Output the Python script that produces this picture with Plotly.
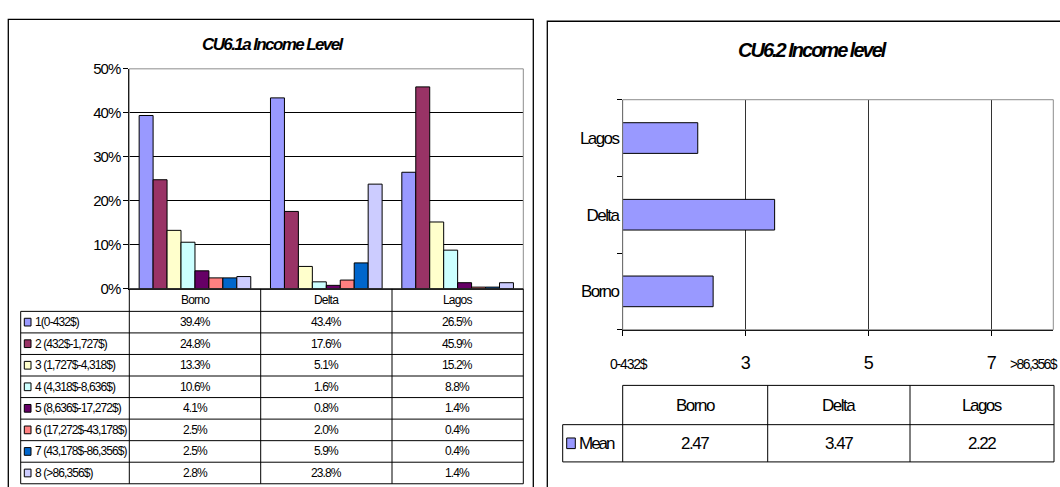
import plotly.graph_objects as go

W, H = 1060, 487

# ---- data: income distribution by state ----
regions = ["Borno", "Delta", "Lagos"]
income_bands = [
    "1(0-432$)",
    "2 (432$-1,727$)",
    "3 (1,727$-4,318$)",
    "4 (4,318$-8,636$)",
    "5 (8,636$-17,272$)",
    "6 (17,272$-43,178$)",
    "7 (43,178$-86,356$)",
    "8 (>86,356$)",
]
share_borno = [39.4, 24.8, 13.3, 10.6, 4.1, 2.5, 2.5, 2.8]
share_delta = [43.4, 17.6, 5.1, 1.6, 0.8, 2.0, 5.9, 23.8]
share_lagos = [26.5, 45.9, 15.2, 8.8, 1.4, 0.4, 0.4, 1.4]
band_colors = ["#9999FF", "#993366", "#FFFFCC", "#CCFFFF",
               "#660066", "#FF8080", "#0066CC", "#CCCCFF"]
pct_ticks = [0, 0.1, 0.2, 0.3, 0.4, 0.5]

# ---- data: mean income level ----
mean_income = [2.47, 3.47, 2.22]
mean_label = "Mean"
mean_color = "#9999FF"
scale_ticks = [1, 3, 5, 7]
scale_ticktext = ["", "3", "5", "7"]
scale_ends = ["0-432$", ">86,356$"]

title_left = "CU6.1a Income Level"
title_right = "CU6.2 Income level"

FONT = "Liberation Sans, Arial, sans-serif"


def px(x):
    return x / W


def py(y):
    return 1 - y / H


def tight(s, ls):
    """Condensed lettering via negative letter spacing."""
    return f"<span style='letter-spacing:{ls}px'>{s}</span>"


shares_by_region = [share_borno, share_delta, share_lagos]

fig = go.Figure()

# grouped columns: one trace per income band
for i, band in enumerate(income_bands):
    fig.add_trace(go.Bar(
        x=regions,
        y=[shares_by_region[r][i] / 100 for r in range(len(regions))],
        name=band,
        marker=dict(color=band_colors[i], line=dict(color="black", width=1)),
        xaxis="x", yaxis="y",
        showlegend=False,
    ))

# horizontal bars: mean level per state
fig.add_trace(go.Bar(
    y=regions, x=mean_income, orientation="h", width=0.4,
    marker=dict(color=mean_color, line=dict(color="black", width=1)),
    xaxis="x2", yaxis="y2", showlegend=False,
))

shapes = []
annotations = []


def hline(y, x0, x1, color="black", width=1):
    shapes.append(dict(type="line", xref="paper", yref="paper",
                       x0=px(x0), x1=px(x1), y0=py(y), y1=py(y),
                       line=dict(color=color, width=width)))


def vline(x, y0, y1, color="black", width=1):
    shapes.append(dict(type="line", xref="paper", yref="paper",
                       x0=px(x), x1=px(x), y0=py(y0), y1=py(y1),
                       line=dict(color=color, width=width)))


def text(x, y, s, size, anchor="center", ls=-0.6):
    annotations.append(dict(xref="paper", yref="paper", x=px(x), y=py(y),
                            text=tight(s, ls), showarrow=False, xanchor=anchor,
                            yanchor="middle",
                            font=dict(family=FONT, size=size, color="black")))


# panel frames
shapes.append(dict(type="rect", xref="paper", yref="paper",
                   x0=px(8.3), x1=px(533.3), y0=py(500), y1=py(10.7),
                   line=dict(color="black", width=1.3)))
shapes.append(dict(type="rect", xref="paper", yref="paper",
                   x0=px(547.3), x1=px(1075), y0=py(500), y1=py(12.7),
                   line=dict(color="black", width=1.3)))

# plot-area borders
for xr, yr in (("x domain", "y domain"), ("x2 domain", "y2 domain")):
    shapes.append(dict(type="rect", xref=xr, yref=yr, x0=0, x1=1, y0=0, y1=1,
                       line=dict(color="#8c8c8c", width=1), layer="above"))

# titles
text(273, 37, "<b><i>" + title_left + "</i></b>", 17, ls=-1.6)
text(812, 43, "<b><i>" + title_right + "</i></b>", 20, ls=-2.0)

# ---- left data table ----
col_l = [129.3, 260.7, 392.0, 523.3]
tab_left_x = 20.7
head_top, head_bot = 290.0, 313.3
row_h = 22.33
row_edges = [head_bot + k * row_h for k in range(len(income_bands) + 1)]

hline(head_top, col_l[0], col_l[-1])
for y in row_edges:
    hline(y, tab_left_x, col_l[-1])
vline(tab_left_x, head_bot, row_edges[-1])
for x in col_l:
    vline(x, head_top, row_edges[-1])

for c, reg in enumerate(regions):
    text((col_l[c] + col_l[c + 1]) / 2, (head_top + head_bot) / 2, reg, 12, ls=-0.8)

for i, band in enumerate(income_bands):
    yc = (row_edges[i] + row_edges[i + 1]) / 2
    shapes.append(dict(type="rect", xref="paper", yref="paper",
                       x0=px(24.3), x1=px(31), y0=py(yc + 4), y1=py(yc - 4),
                       fillcolor=band_colors[i], line=dict(color="black", width=1)))
    text(33, yc, band, 12, anchor="left", ls=-0.9)
    for c in range(len(regions)):
        text((col_l[c] + col_l[c + 1]) / 2, yc,
             f"{shares_by_region[c][i]:.1f}%", 12, ls=-0.9)

# ---- right data table ----
col_r = [622.7, 767.7, 910.0, 1054.0]
lab_x = 562.7
r_top, r_mid, r_bot = 390.0, 430.7, 469.3

hline(r_top, col_r[0], col_r[-1])
hline(r_mid, lab_x, col_r[-1])
hline(r_bot, lab_x, col_r[-1])
vline(lab_x, r_mid, r_bot)
for x in col_r:
    vline(x, r_top, r_bot)

for c, reg in enumerate(regions):
    xc = (col_r[c] + col_r[c + 1]) / 2
    text(xc, (r_top + r_mid) / 2, reg, 17, ls=-1.5)
    text(xc, (r_mid + r_bot) / 2, f"{mean_income[c]:.2f}", 17, ls=-1.5)

ym = (r_mid + r_bot) / 2
shapes.append(dict(type="rect", xref="paper", yref="paper",
                   x0=px(566.7), x1=px(575.3), y0=py(ym + 5.5), y1=py(ym - 5.5),
                   fillcolor=mean_color, line=dict(color="black", width=1)))
text(577, ym, mean_label, 17, anchor="left", ls=-2.0)

# end labels of the income scale
text(629, 368, scale_ends[0], 14, ls=-1.2)
text(1034, 368, scale_ends[1], 14, ls=-1.6)

fig.update_layout(
    width=W, height=H, autosize=False,
    margin=dict(l=0, r=0, t=0, b=0),
    paper_bgcolor="white", plot_bgcolor="white",
    barmode="group", bargap=0.15, bargroupgap=0,
    showlegend=False,
    shapes=shapes, annotations=annotations,
    xaxis=dict(domain=[px(129.3), px(523.3)], type="category",
               range=[-0.5, 2.5], showticklabels=False, ticks="",
               showline=True, linecolor="black", linewidth=1,
               showgrid=False, zeroline=False, fixedrange=True),
    yaxis=dict(domain=[py(290), py(62)], range=[0, 0.5],
               tickvals=pct_ticks,
               ticktext=[tight(f"{v:.0%}", -1.0) for v in pct_ticks],
               ticks="outside", ticklen=5, tickcolor="black",
               showline=True, linecolor="black", linewidth=1,
               showgrid=True, gridcolor="black", gridwidth=1,
               zeroline=False,
               tickfont=dict(family=FONT, size=15, color="black")),
    xaxis2=dict(domain=[px(622.7), px(1053.3)], anchor="y2",
                range=[1, 8], tickvals=scale_ticks, ticktext=scale_ticktext,
                ticks="outside", ticklen=5, tickcolor="black",
                ticklabelstandoff=12,
                showline=True, linecolor="black", linewidth=1,
                showgrid=True, gridcolor="#333333", gridwidth=1,
                zeroline=False,
                tickfont=dict(family=FONT, size=18, color="black")),
    yaxis2=dict(domain=[py(332.3), py(94)], anchor="x2", type="category",
                categoryorder="array", categoryarray=regions,
                range=[-0.5, 2.5], tickson="boundaries",
                ticks="outside", ticklen=5, tickcolor="black",
                showline=True, linecolor="black", linewidth=1,
                showgrid=False, zeroline=False,
                ticktext=[tight(r, -1.6) for r in regions], tickvals=regions,
                tickfont=dict(family=FONT, size=17, color="black")),
)

fig.write_html("out.html")
